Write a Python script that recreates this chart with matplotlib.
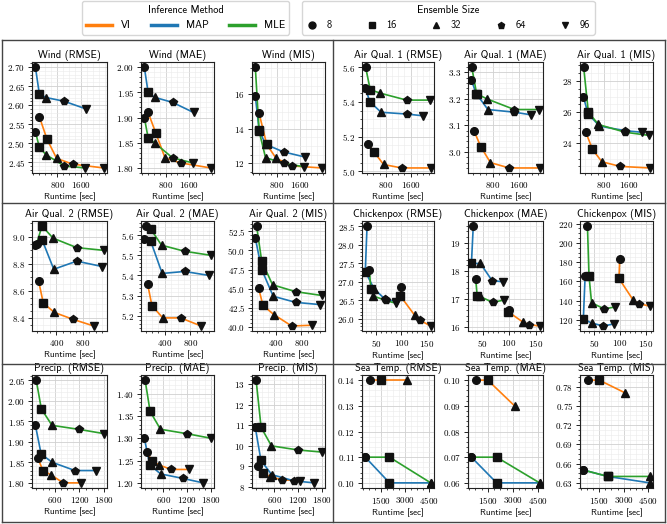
import matplotlib
matplotlib.use('Agg')
import matplotlib.pyplot as plt
from matplotlib.ticker import MultipleLocator, AutoMinorLocator, FixedLocator
from matplotlib.lines import Line2D

plt.rcParams['font.family'] = 'cmr10'
plt.rcParams['mathtext.fontset'] = 'cm'
plt.rcParams['axes.formatter.use_mathtext'] = True

W, H = 667, 524

methods = ['VI', 'MAP', 'MLE']
method_colors = ['#ff7f0e', '#1f77b4', '#2ca02c']
ensemble_sizes = ['8', '16', '32', '64', '96']
size_markers = ['o', 's', '^', 'p', 'v']

# ---------------- data ----------------
wind_xticks = [800, 1600]
wind_runtime = {'VI': [200, 460, 780, 1320, 2350], 'MAP': [70, 200, 420, 1040, 1760], 'MLE': [70, 200, 420, 1040, 1740]}
wind_rmse = {'VI': [2.57, 2.51, 2.46, 2.445, 2.435], 'MAP': [2.70, 2.63, 2.62, 2.61, 2.59], 'MLE': [2.53, 2.49, 2.47, 2.44, 2.435]}
wind_mae = {'VI': [1.91, 1.87, 1.82, 1.81, 1.80], 'MAP': [2.00, 1.95, 1.94, 1.93, 1.91], 'MLE': [1.90, 1.86, 1.85, 1.82, 1.81]}
wind_mis = {'VI': [14.9, 13.1, 12.3, 11.85, 11.73], 'MAP': [15.9, 13.93, 13.1, 12.66, 12.37], 'MLE': [17.58, 13.87, 12.33, 12.0, 11.8]}

aq1_xticks = [800, 1600]
aq1_runtime = {'VI': [220, 430, 730, 1310, 2250], 'MAP': [140, 290, 650, 1470, 1990], 'MLE': [150, 300, 620, 1470, 2220]}
aq1_rmse = {'VI': [5.16, 5.11, 5.04, 5.02, 5.02], 'MAP': [5.48, 5.40, 5.34, 5.33, 5.32], 'MLE': [5.60, 5.47, 5.45, 5.41, 5.41]}
aq1_mae = {'VI': [3.08, 3.02, 2.96, 2.94, 2.94], 'MAP': [3.27, 3.22, 3.16, 3.15, 3.14], 'MLE': [3.32, 3.22, 3.20, 3.16, 3.16]}
aq1_mis = {'VI': [24.7, 23.6, 22.8, 22.5, 22.4], 'MAP': [27.0, 25.9, 25.1, 24.8, 24.7], 'MLE': [28.9, 26.0, 25.2, 24.7, 24.5]}

aq2_xticks = [400, 800]
aq2_runtime = {'VI': [130, 200, 370, 650, 970], 'MAP': [80, 180, 360, 710, 1100], 'MLE': [100, 180, 350, 710, 1120]}
aq2_rmse = {'VI': [8.67, 8.51, 8.44, 8.39, 8.34], 'MAP': [8.94, 8.98, 8.76, 8.82, 8.78], 'MLE': [8.95, 9.08, 8.99, 8.92, 8.90]}
aq2_mae = {'VI': [5.36, 5.25, 5.19, 5.19, 5.15], 'MAP': [5.58, 5.57, 5.41, 5.42, 5.40], 'MLE': [5.645, 5.63, 5.55, 5.52, 5.50]}
aq2_mis = {'VI': [45.1, 42.8, 41.6, 40.1, 40.2], 'MAP': [51.6, 47.5, 44.0, 43.2, 42.9], 'MLE': [53.2, 48.6, 45.5, 44.6, 44.1]}

cp_xticks = [50, 100, 150]
cp_runtime = {'VI': [99.5, 98, 126, 137, 157.5], 'MAP': [32.5, 29, 46, 68, 89], 'MLE': [37, 40, 45, 69, 90]}
cp_rmse = {'VI': [26.86, 26.62, 26.1, 25.96, 25.81], 'MAP': [28.51, 27.28, 26.82, 26.53, 26.47], 'MLE': [27.33, 26.8, 26.62, 26.5, 26.42]}
cp_mae = {'VI': [16.62, 16.55, 16.18, 16.09, 16.04], 'MAP': [19.59, 18.26, 18.26, 17.65, 17.61], 'MLE': [17.71, 17.09, 17.09, 16.88, 16.96]}
cp_mis = {'VI': [182.8, 163.0, 140.1, 136.7, 134.2], 'MAP': [165.5, 120.5, 116.5, 113.5, 115.8], 'MLE': [217.6, 165.5, 137.7, 131.4, 133.2]}

pr_xticks = [600, 1200, 1800]
pr_runtime = {'VI': [183, 310, 495, 805, 1245], 'MAP': [125, 265, 535, 1090, 1600], 'MLE': [145, 270, 530, 1200, 1790]}
pr_rmse = {'VI': [1.86, 1.83, 1.82, 1.80, 1.80], 'MAP': [1.94, 1.87, 1.85, 1.83, 1.83], 'MLE': [2.05, 1.98, 1.94, 1.93, 1.92]}
pr_mae = {'VI': [1.27, 1.25, 1.24, 1.23, 1.23], 'MAP': [1.30, 1.24, 1.22, 1.21, 1.20], 'MLE': [1.43, 1.36, 1.32, 1.31, 1.30]}
pr_mis = {'VI': [9.0, 8.7, 8.5, 8.35, 8.3], 'MAP': [10.9, 9.3, 8.6, 8.3, 8.2], 'MLE': [13.2, 10.9, 10.0, 9.8, 9.7]}

sea_xticks = [1500, 3000, 4500]
sea_runtime = {'VI': [790, 1500, 3100], 'MAP': [520, 2030, 4600], 'MLE': [520, 2030, 4600]}
sea_rmse = {'VI': [0.14, 0.14, 0.14], 'MAP': [0.11, 0.10, 0.10], 'MLE': [0.11, 0.11, 0.10]}
sea_mae = {'VI': [0.10, 0.10, 0.09], 'MAP': [0.07, 0.06, 0.06], 'MLE': [0.07, 0.07, 0.06]}
sea_mis = {'VI': [0.79, 0.79, 0.77], 'MAP': [0.65, 0.64, 0.63], 'MLE': [0.65, 0.64, 0.64]}

# dataset name, runtimes, x ticks, [(metric, values, y tick step)]
groups = [
    ('Wind', wind_runtime, wind_xticks, [('RMSE', wind_rmse, 0.05), ('MAE', wind_mae, 0.05), ('MIS', wind_mis, 2)]),
    ('Air Qual. 1', aq1_runtime, aq1_xticks, [('RMSE', aq1_rmse, 0.2), ('MAE', aq1_mae, 0.1), ('MIS', aq1_mis, 2)]),
    ('Air Qual. 2', aq2_runtime, aq2_xticks, [('RMSE', aq2_rmse, 0.2), ('MAE', aq2_mae, 0.1), ('MIS', aq2_mis, 2.5)]),
    ('Chickenpox', cp_runtime, cp_xticks, [('RMSE', cp_rmse, 0.5), ('MAE', cp_mae, 1), ('MIS', cp_mis, 20)]),
    ('Precip.', pr_runtime, pr_xticks, [('RMSE', pr_rmse, 0.05), ('MAE', pr_mae, 0.05), ('MIS', pr_mis, 1)]),
    ('Sea Temp.', sea_runtime, sea_xticks, [('RMSE', sea_rmse, 0.01), ('MAE', sea_mae, 0.01), ('MIS', sea_mis, 0.03)]),
]

fig = plt.figure(figsize=(W / 100, H / 100), dpi=100)

col_px = [[(32, 107), (141, 214), (252, 325)], [(362, 434), (468, 543), (580, 653)]]
row_px = [(62, 173), (221, 331), (375, 488)]

SANS = 'cmss10'
for gi, (dname, runtime, xticks, metrics) in enumerate(groups):
    r, c = gi // 2, gi % 2
    t, b = row_px[r]
    for mi, (mname, vals, ystep) in enumerate(metrics):
        l, rr = col_px[c][mi]
        ax = fig.add_axes([l / W, 1 - b / H, (rr - l) / W, (b - t) / H])
        for meth, col in zip(methods, method_colors):
            xs = runtime[meth]
            ys = vals[meth]
            ax.plot(xs, ys, color=col, lw=1.2, zorder=2)
            for x, y, mk in zip(xs, ys, size_markers):
                ax.plot([x], [y], ls='none', marker=mk, color='#111111', ms=5.5, zorder=3)
        ax.xaxis.set_major_locator(FixedLocator(xticks))
        ax.yaxis.set_major_locator(MultipleLocator(ystep))
        ax.xaxis.set_minor_locator(AutoMinorLocator())
        ax.yaxis.set_minor_locator(AutoMinorLocator())
        ax.grid(which='major', color='#d0d0d0', lw=0.6)
        ax.grid(which='minor', color='#ebebeb', lw=0.4)
        ax.set_axisbelow(True)
        ax.tick_params(which='major', labelsize=6.5, length=3, width=0.6, pad=2)
        ax.tick_params(which='minor', length=1.5, width=0.5)
        for sp in ax.spines.values():
            sp.set_linewidth(0.8)
            sp.set_color('#222222')
        ax.set_title(f'{dname} ({mname})', fontfamily=SANS, fontsize=7.5, pad=3)
        ax.set_xlabel('Runtime [sec]', fontfamily=SANS, fontsize=6.5, labelpad=2)

# group frames
frame_kw = dict(color='#444444', lw=1.0, transform=fig.transFigure, clip_on=False)
x0, x1, xm = 2 / W, 665 / W, 333 / W
y0, y1 = 1 - 40 / H, 1 - 522 / H
fig.add_artist(Line2D([x0, x1], [y0, y0], **frame_kw))
fig.add_artist(Line2D([x0, x1], [y1, y1], **frame_kw))
fig.add_artist(Line2D([x0, x0], [y0, y1], **frame_kw))
fig.add_artist(Line2D([x1, x1], [y0, y1], **frame_kw))
fig.add_artist(Line2D([xm, xm], [y0, y1], **frame_kw))
for yy in (203, 364):
    fig.add_artist(Line2D([x0, x1], [1 - yy / H, 1 - yy / H], **frame_kw))

# legends
mh = [Line2D([], [], color=c, lw=2.5) for c in method_colors]
sh = [Line2D([], [], ls='none', marker=m, color='#111111', ms=5) for m in size_markers]
prop = {'family': SANS, 'size': 7.5}
leg1 = fig.legend(mh, methods, title='Inference Method', ncol=3, loc='upper left',
                  bbox_to_anchor=(82 / W, 1 - 1 / H), prop=prop, title_fontproperties=prop,
                  handlelength=2.5, columnspacing=2.0, borderaxespad=0, fancybox=True,
                  edgecolor='#cccccc')
leg2 = fig.legend(sh, ensemble_sizes, title='Ensemble Size', ncol=5, loc='upper left',
                  bbox_to_anchor=(302 / W, 1 - 1 / H), prop=prop, title_fontproperties=prop,
                  handlelength=1.2, columnspacing=3.2, borderaxespad=0, fancybox=True,
                  edgecolor='#cccccc')

fig.savefig('out.png', dpi=100)
